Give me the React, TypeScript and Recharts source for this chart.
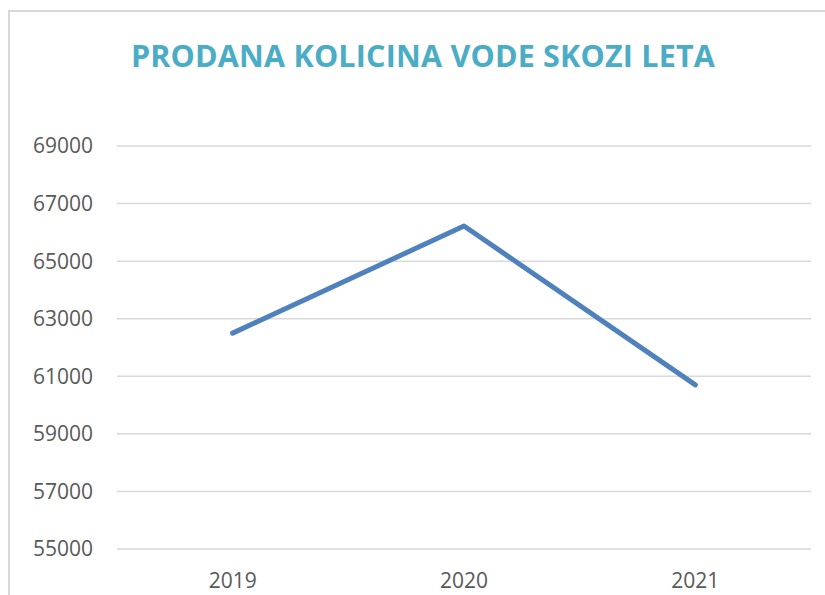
import { LineChart, Line, XAxis, YAxis, CartesianGrid } from "recharts"

const years = ["2019", "2020", "2021"]
const sold = [62500, 66220, 60700]
const yTicks = [55000, 57000, 59000, 61000, 63000, 65000, 67000, 69000]

const data = years.map((year, i) => ({ year, sold: sold[i] }))

const font = "'Open Sans', sans-serif"
const tick = { fill: "#595959", fontSize: 21, fontFamily: font }

export default function App() {
  return (
    <div style={{ position: "relative", width: 825, height: 595, overflow: "hidden", background: "#fff" }}>
      <style>{`html,body{margin:0;overflow:hidden}`}</style>
      <div
        style={{
          position: "absolute",
          left: 8,
          top: 10,
          width: 840,
          height: 600,
          borderLeft: "2px solid #d9d9d9",
          borderTop: "2px solid #d9d9d9",
        }}
      />
      <div
        style={{
          position: "absolute",
          left: 0,
          width: 846,
          top: 34,
          textAlign: "center",
          fontFamily: font,
          fontWeight: 700,
          fontSize: 30.5,
          letterSpacing: 0.2,
          color: "#4BACC6",
          whiteSpace: "nowrap",
        }}
      >
        PRODANA KOLICINA VODE SKOZI LETA
      </div>
      <div style={{ position: "absolute", left: 0, top: 0 }}>
        <LineChart width={825} height={595} data={data} margin={{ top: 146, right: 14, bottom: 6, left: 0 }}>
          <CartesianGrid vertical={false} stroke="#d9d9d9" strokeWidth={1.5} />
          <XAxis
            dataKey="year"
            scale="band"
            tick={tick}
            tickLine={false}
            axisLine={false}
            tickMargin={18}
            height={40}
          />
          <YAxis
            domain={[55000, 69000]}
            ticks={yTicks}
            tick={tick}
            tickLine={false}
            axisLine={false}
            tickMargin={18}
            width={117}
          />
          <Line
            type="linear"
            dataKey="sold"
            stroke="#4F81BD"
            strokeWidth={5}
            dot={false}
            strokeLinejoin="round"
            strokeLinecap="round"
            isAnimationActive={false}
          />
        </LineChart>
      </div>
    </div>
  )
}
